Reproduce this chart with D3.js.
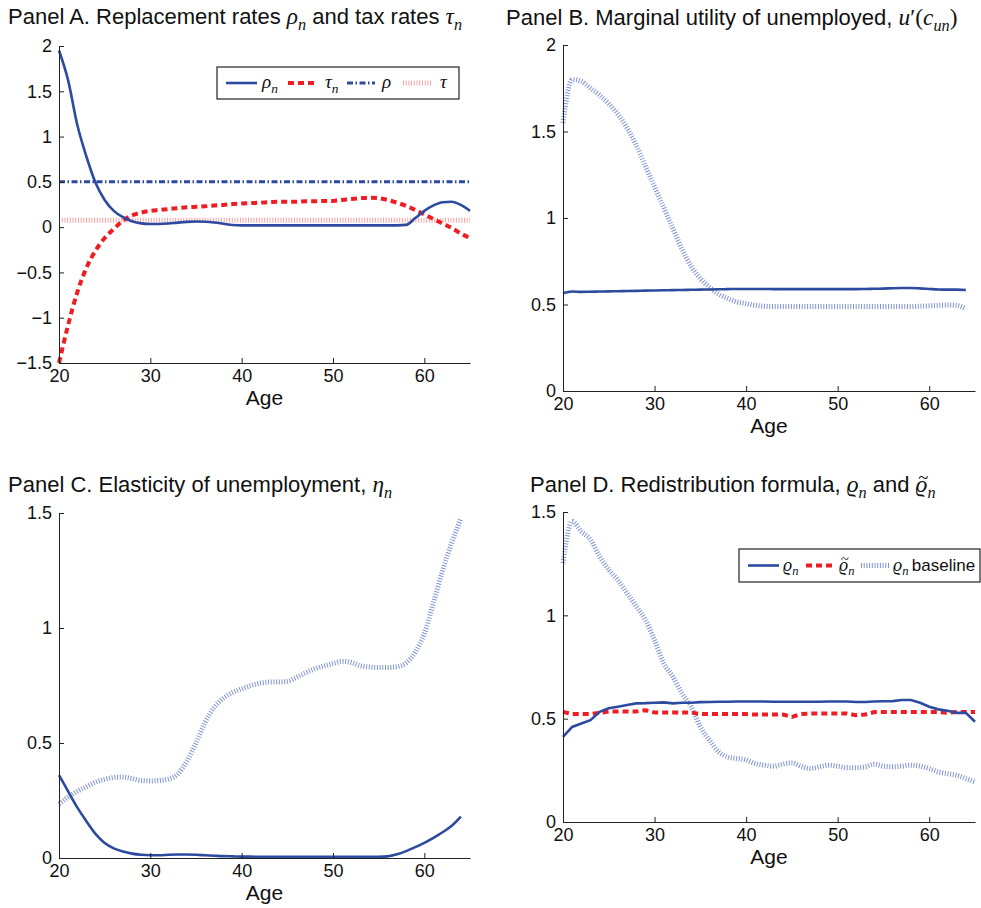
<!DOCTYPE html>
<html>
<head>
<meta charset="utf-8">
<script src="https://cdn.jsdelivr.net/npm/d3@7"></script>
<style>
html,body{margin:0;padding:0;background:#fff;}
svg{display:block;}
</style>
</head>
<body>
<svg id="chart" width="981" height="908"></svg>
<script>
// ---------------- DATA ----------------
const ages = [20,21,22,23,24,25,26,27,28,29,30,31,32,33,34,35,36,37,38,39,40,41,42,43,44,45,46,47,48,49,50,51,52,53,54,55,56,57,58,59,60,61,62,63,64,65];
const ages64 = ages.slice(0, 45);

// Panel A
const rhoN = [1.95,1.62,1.13,0.78,0.49,0.30,0.18,0.11,0.065,0.042,0.035,0.035,0.04,0.05,0.058,0.062,0.06,0.052,0.038,0.024,0.02,0.02,0.02,0.02,0.02,0.02,0.02,0.02,0.02,0.02,0.02,0.02,0.02,0.02,0.02,0.02,0.02,0.02,0.025,0.10,0.18,0.24,0.275,0.28,0.245,0.18];
const tauN = [-1.5,-1.08,-0.72,-0.45,-0.26,-0.12,-0.02,0.07,0.13,0.16,0.18,0.19,0.20,0.21,0.22,0.225,0.23,0.24,0.245,0.255,0.26,0.265,0.27,0.275,0.28,0.28,0.28,0.285,0.285,0.29,0.29,0.30,0.31,0.32,0.325,0.32,0.30,0.27,0.235,0.19,0.14,0.09,0.04,-0.01,-0.07,-0.12];
const rhoConst = 0.5;
const tauConst = 0.077;
const ticksA = [-1.5,-1,-0.5,0,0.5,1,1.5,2];

// Panel B
const muOptimal = [0.565,0.575,0.573,0.574,0.575,0.576,0.577,0.578,0.579,0.58,0.581,0.582,0.583,0.584,0.585,0.586,0.587,0.588,0.589,0.59,0.59,0.59,0.59,0.589,0.589,0.589,0.589,0.589,0.589,0.589,0.589,0.589,0.589,0.59,0.591,0.592,0.594,0.595,0.595,0.593,0.59,0.587,0.586,0.586,0.584];
const muBaseline = [1.55,1.80,1.79,1.75,1.71,1.66,1.60,1.52,1.42,1.30,1.18,1.06,0.94,0.82,0.72,0.65,0.60,0.56,0.535,0.515,0.505,0.495,0.49,0.488,0.488,0.488,0.488,0.488,0.488,0.488,0.488,0.488,0.488,0.488,0.488,0.488,0.488,0.488,0.488,0.49,0.492,0.495,0.497,0.495,0.475];
const ticksB = [0,0.5,1,1.5,2];

// Panel C
const etaOptimal = [0.36,0.29,0.22,0.16,0.105,0.065,0.042,0.028,0.019,0.014,0.012,0.012,0.014,0.015,0.015,0.014,0.012,0.01,0.008,0.007,0.006,0.006,0.005,0.005,0.005,0.005,0.005,0.005,0.005,0.005,0.005,0.005,0.005,0.005,0.005,0.005,0.007,0.016,0.03,0.047,0.066,0.088,0.112,0.14,0.18];
const etaBaseline = [0.235,0.265,0.29,0.31,0.33,0.342,0.35,0.352,0.345,0.337,0.335,0.337,0.343,0.365,0.42,0.50,0.59,0.655,0.695,0.72,0.735,0.75,0.76,0.765,0.765,0.768,0.785,0.805,0.822,0.835,0.845,0.855,0.85,0.836,0.83,0.828,0.828,0.832,0.848,0.895,0.975,1.11,1.25,1.37,1.475];
const ticksC = [0,0.5,1,1.5];

// Panel D
const varrhoN = [0.412,0.46,0.477,0.493,0.533,0.55,0.558,0.566,0.574,0.575,0.577,0.579,0.574,0.577,0.577,0.58,0.581,0.582,0.582,0.583,0.583,0.583,0.583,0.582,0.582,0.582,0.582,0.582,0.582,0.583,0.583,0.583,0.581,0.581,0.583,0.584,0.585,0.59,0.59,0.577,0.558,0.545,0.538,0.528,0.528,0.485];
const varrhoTilde = [0.533,0.522,0.522,0.522,0.528,0.535,0.535,0.535,0.535,0.541,0.53,0.53,0.53,0.53,0.53,0.522,0.522,0.522,0.522,0.522,0.522,0.52,0.52,0.52,0.52,0.509,0.522,0.525,0.525,0.525,0.525,0.525,0.517,0.52,0.532,0.532,0.532,0.532,0.532,0.532,0.532,0.532,0.528,0.532,0.532,0.532];
const varrhoBaseline = [1.253,1.455,1.406,1.366,1.285,1.22,1.17,1.107,1.043,0.978,0.88,0.768,0.703,0.622,0.558,0.46,0.396,0.34,0.315,0.307,0.30,0.283,0.275,0.27,0.28,0.286,0.27,0.259,0.267,0.275,0.27,0.263,0.263,0.267,0.28,0.27,0.267,0.27,0.275,0.27,0.259,0.242,0.234,0.226,0.21,0.194];
const ticksD = [0,0.5,1,1.5];

const xTicks = [20,30,40,50,60];

// ---------------- STYLES ----------------
const BLUE = "#2c4a9f";
const RED = "#ee1d23";
const LIGHTBLUE = "#7f93d0";
const PINK = "#f6a3a3";
const SANS = "'Liberation Sans', Arial, Helvetica, sans-serif";
const SERIF = "'Liberation Serif', 'DejaVu Serif', 'Times New Roman', serif";

const styles = {
  solid:   {stroke: BLUE, width: 2.6, dash: null},
  dashed:  {stroke: RED, width: 4, dash: "6,4"},
  dashdot: {stroke: BLUE, width: 3, dash: "6,2.5,1.5,2.5"},
  dottedB: {stroke: LIGHTBLUE, width: 5, dash: "1,1.7"},
  dottedP: {stroke: PINK, width: 5, dash: "1,1.7"}
};

const svg = d3.select("#chart");

// rich text: segments [{t, math, sub, tilde, upright}]
function richText(g, x, y, size, segs, anchor) {
  const t = g.append("text").attr("x", x).attr("y", y)
    .attr("font-size", size).attr("font-family", SANS).attr("fill", "#111")
    .attr("text-anchor", anchor || "start");
  let idx = 0;
  let shift = 0;
  const tildeIdx = [];
  segs.forEach(s => {
    const sp = t.append("tspan").text(s.t);
    if (s.math) sp.attr("font-family", SERIF).attr("font-style", s.upright ? "normal" : "italic")
      .attr("font-size", s.sub ? size * 0.74 : size * 1.06);
    const target = s.sub ? size * 0.26 : 0;
    if (target !== shift) { sp.attr("dy", target - shift); shift = target; }
    if (s.tilde) tildeIdx.push(idx);
    idx += s.t.length;
  });
  tildeIdx.forEach(i => {
    const ext = t.node().getExtentOfChar(i);
    g.append("text").attr("x", ext.x + ext.width / 2 + size * 0.08).attr("y", y - size * 0.36)
      .attr("text-anchor", "middle").attr("font-family", SERIF).attr("font-size", size * 0.85)
      .attr("fill", "#111").text("~");
  });
  return t;
}

function panel(cfg) {
  const g = svg.append("g");
  const x = d3.scaleLinear().domain([20, 65]).range([cfg.x0, cfg.x1]);
  const y = d3.scaleLinear().domain(cfg.yDomain).range([cfg.y1, cfg.y0]);

  // title
  richText(g, cfg.titleX, cfg.titleY, 22, cfg.title);

  // series
  cfg.series.forEach(s => {
    const st = styles[s.style];
    const data = s.xs.map((a, i) => [a, s.ys[i]]);
    const line = d3.line().x(d => x(d[0])).y(d => y(d[1])).curve(s.curve || d3.curveMonotoneX);
    g.append("path").attr("d", line(data)).attr("fill", "none")
      .attr("stroke", st.stroke).attr("stroke-width", st.width)
      .attr("stroke-dasharray", st.dash);
  });

  // axes
  const fmt = d3.format("~g");
  const ax = g.append("g").attr("transform", `translate(0,${cfg.y1})`)
    .call(d3.axisBottom(x).tickValues(xTicks).tickFormat(fmt).tickSizeInner(-5).tickSizeOuter(0).tickPadding(6));
  const ay = g.append("g").attr("transform", `translate(${cfg.x0},0)`)
    .call(d3.axisLeft(y).tickValues(cfg.yTicks).tickFormat(fmt).tickSizeInner(-5).tickSizeOuter(0).tickPadding(7));
  [ax, ay].forEach(a => {
    a.selectAll("text").attr("font-family", SANS).attr("font-size", 18).attr("fill", "#111");
    a.selectAll("path,line").attr("stroke", "#222").attr("stroke-width", 1);
  });

  // x label
  g.append("text").attr("x", (cfg.x0 + cfg.x1) / 2).attr("y", cfg.y1 + 42)
    .attr("text-anchor", "middle").attr("font-family", SANS).attr("font-size", 21)
    .attr("fill", "#111").text("Age");

  // legend
  if (cfg.legend) {
    const L = cfg.legend;
    g.append("rect").attr("x", L.x).attr("y", L.y).attr("width", L.w).attr("height", L.h)
      .attr("fill", "#fff").attr("stroke", "#222").attr("stroke-width", 1.2);
    const cy = L.y + L.h / 2;
    L.items.forEach(it => {
      const st = styles[it.style];
      g.append("line").attr("x1", it.lx).attr("x2", it.lx + it.lw).attr("y1", cy).attr("y2", cy)
        .attr("stroke", st.stroke).attr("stroke-width", st.width).attr("stroke-dasharray", st.dash);
      richText(g, it.tx, cy + 5, L.size, it.label);
    });
  }
}

panel({
  x0: 59, x1: 470, y0: 46, y1: 363, yDomain: [-1.5, 2], yTicks: ticksA,
  titleX: 8, titleY: 24,
  title: [{t: "Panel A. Replacement rates "}, {t: "\u03C1", math: true}, {t: "n", math: true, sub: true},
          {t: " and tax rates "}, {t: "\u03C4", math: true}, {t: "n", math: true, sub: true}],
  series: [
    {xs: ages, ys: ages.map(() => tauConst), style: "dottedP", curve: d3.curveLinear},
    {xs: ages, ys: ages.map(() => rhoConst), style: "dashdot", curve: d3.curveLinear},
    {xs: ages, ys: tauN, style: "dashed"},
    {xs: ages, ys: rhoN, style: "solid"}
  ],
  legend: {x: 217, y: 67, w: 242, h: 32, size: 18, items: [
    {style: "solid", lx: 226, lw: 31, tx: 262, label: [{t: "\u03C1", math: true}, {t: "n", math: true, sub: true}]},
    {style: "dashed", lx: 288, lw: 30, tx: 325, label: [{t: "\u03C4", math: true}, {t: "n", math: true, sub: true}]},
    {style: "dashdot", lx: 347, lw: 28, tx: 382, label: [{t: "\u03C1", math: true}]},
    {style: "dottedP", lx: 403, lw: 29, tx: 440, label: [{t: "\u03C4", math: true}]}
  ]}
});

panel({
  x0: 563, x1: 975, y0: 45, y1: 391, yDomain: [0, 2], yTicks: ticksB,
  titleX: 506, titleY: 25,
  title: [{t: "Panel B. Marginal utility of unemployed, "}, {t: "u", math: true}, {t: "\u2032(", math: true, upright: true},
          {t: "c", math: true}, {t: "un", math: true, sub: true}, {t: ")", math: true, upright: true}],
  series: [
    {xs: ages64, ys: muBaseline, style: "dottedB"},
    {xs: ages64, ys: muOptimal, style: "solid"}
  ]
});

panel({
  x0: 59, x1: 470, y0: 513, y1: 858, yDomain: [0, 1.5], yTicks: ticksC,
  titleX: 8, titleY: 492,
  title: [{t: "Panel C. Elasticity of unemployment, "}, {t: "\u03B7", math: true}, {t: "n", math: true, sub: true}],
  series: [
    {xs: ages64, ys: etaBaseline, style: "dottedB"},
    {xs: ages64, ys: etaOptimal, style: "solid"}
  ]
});

panel({
  x0: 563, x1: 975, y0: 512, y1: 822, yDomain: [0, 1.5], yTicks: ticksD,
  titleX: 530, titleY: 492,
  title: [{t: "Panel D. Redistribution formula, "}, {t: "\u03F1", math: true}, {t: "n", math: true, sub: true},
          {t: " and "}, {t: "\u03F1", math: true, tilde: true}, {t: "n", math: true, sub: true}],
  series: [
    {xs: ages, ys: varrhoBaseline, style: "dottedB"},
    {xs: ages, ys: varrhoTilde, style: "dashed", curve: d3.curveLinear},
    {xs: ages, ys: varrhoN, style: "solid", curve: d3.curveLinear}
  ],
  legend: {x: 739, y: 549, w: 241, h: 33, size: 17, items: [
    {style: "solid", lx: 748, lw: 31, tx: 783, label: [{t: "\u03F1", math: true}, {t: "n", math: true, sub: true}]},
    {style: "dashed", lx: 806, lw: 29, tx: 839, label: [{t: "\u03F1", math: true, tilde: true}, {t: "n", math: true, sub: true}]},
    {style: "dottedB", lx: 861, lw: 28, tx: 893, label: [{t: "\u03F1", math: true}, {t: "n", math: true, sub: true}, {t: "\u2009baseline"}]}
  ]}
});
</script>
</body>
</html>
